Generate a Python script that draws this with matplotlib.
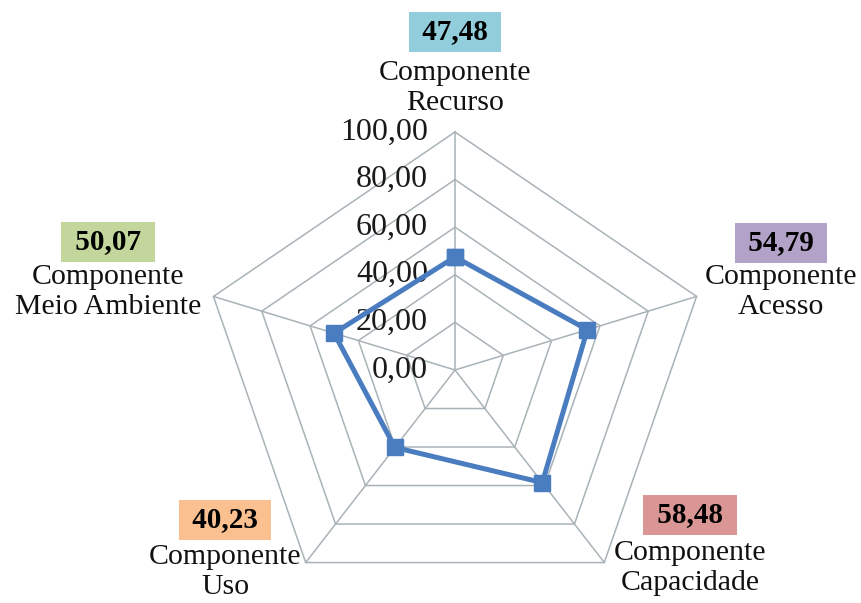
"""Gráfico radar dos componentes do índice"""
import numpy as np
import matplotlib
matplotlib.use('Agg')
import matplotlib.pyplot as plt
from matplotlib.transforms import offset_copy

# dados
componentes = ['Recurso', 'Acesso', 'Capacidade', 'Uso', 'Meio Ambiente']
valores = [47.48, 54.79, 58.48, 40.23, 50.07]
niveis = [0, 20, 40, 60, 80, 100]
cores_caixa = ['#92cddc', '#b3a2c7', '#d99694', '#fac090', '#c3d69b']

plt.rcParams['font.family'] = ['Liberation Serif', 'DejaVu Serif']

W, H = 861, 603
fig = plt.figure(figsize=(W / 100, H / 100), dpi=100)
ax = fig.add_axes([0, 0, 1, 1])
# centro em (455, 370) px, escala 2.54 px/unid na horizontal e 2.38 na vertical
ax.set_xlim(-455 / 2.54, (W - 455) / 2.54)
ax.set_ylim(-(H - 370) / 2.38, 370 / 2.38)
ax.axis('off')

ang = np.arange(len(componentes)) * 2 * np.pi / len(componentes)
ux, uy = np.sin(ang), np.cos(ang)
fechar = lambda a: np.append(a, a[0])

grade = '#a9b3b7'
for n in niveis[1:]:
    ax.plot(fechar(ux) * n, fechar(uy) * n, color=grade, lw=1.1, zorder=1)
for x, y in zip(ux, uy):
    ax.plot([0, x * niveis[-1]], [0, y * niveis[-1]], color=grade, lw=1.1, zorder=1)

# rótulos do eixo
trans = offset_copy(ax.transData, fig=fig, x=-27, y=0, units='dots')
for n in niveis:
    ax.text(0, n, f'{n:.2f}'.replace('.', ','), transform=trans,
            ha='right', va='center', fontsize=23, color='#1a1a1a')

# série
v = np.array(valores)
ax.plot(fechar(ux * v), fechar(uy * v), color='#4a7cc0', lw=3.6,
        marker='s', ms=11, zorder=3)

# rótulos das categorias (px: centro da caixa, centro do nome)
pos_rotulo = [(455, 32, 88), (781, 243, 292), (690, 515, 568),
              (225, 520, 572), (108, 242, 292)]
for nome, val, cor, (px, py, ny) in zip(componentes, valores, cores_caixa, pos_rotulo):
    fig.text(px / W, 1 - py / H, f' {val:.2f} '.replace('.', ','),
             ha='center', va='center', fontsize=21, fontweight='bold',
             bbox=dict(boxstyle='square,pad=0.22', fc=cor, ec='none'))
    fig.text(px / W, 1 - ny / H, 'Componente\n' + nome, ha='center', va='center',
             fontsize=21.5, linespacing=1.25, color='#111111')

plt.savefig('out.png', dpi=100)
plt.close()
